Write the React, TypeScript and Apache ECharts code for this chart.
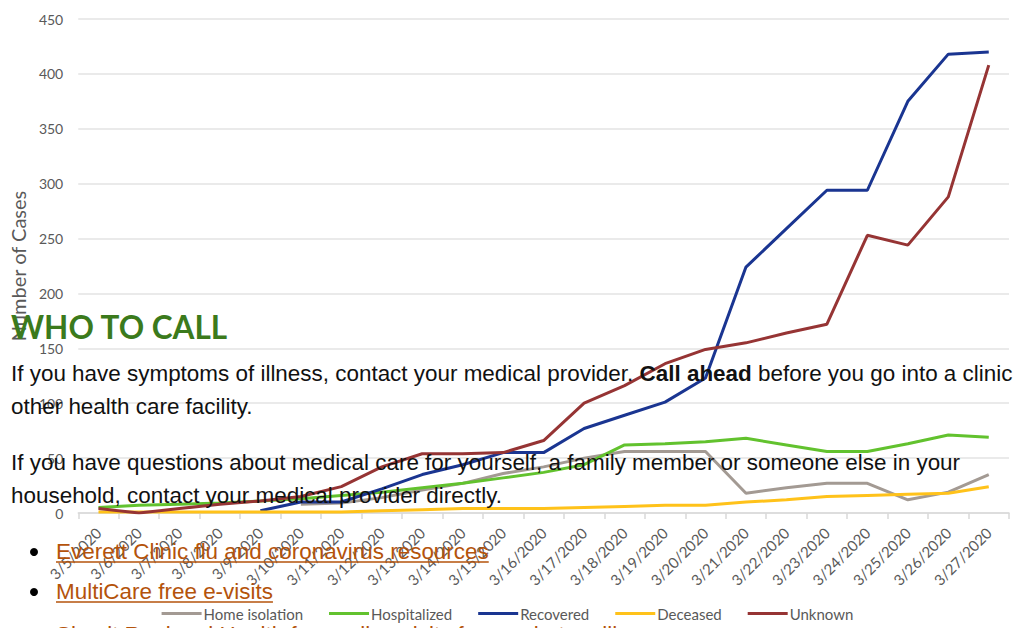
import React, { useEffect, useRef } from "react";
import * as echarts from "echarts";

const categories = [
  "3/5/2020", "3/6/2020", "3/7/2020", "3/8/2020", "3/9/2020", "3/10/2020",
  "3/11/2020", "3/12/2020", "3/13/2020", "3/14/2020", "3/15/2020", "3/16/2020",
  "3/17/2020", "3/18/2020", "3/19/2020", "3/20/2020", "3/21/2020", "3/22/2020",
  "3/23/2020", "3/24/2020", "3/25/2020", "3/26/2020", "3/27/2020",
];

const homeIsolation = [null, null, null, null, null, 8, 9, 14, 21, 27, 36, 42, 50, 56, 56, 56, 18, 23, 27, 27, 12, 19, 35];
const hospitalized = [5, 7, 8, 9, 11, 13, 16, 19, 23, 27, 32, 37, 44, 62, 63, 65, 68, 62, 56, 56, 63, 71, 69];
const recovered = [null, null, null, null, 2, 10, 10, 22, 35, 44, 55, 55, 77, 89, 101, 123, 224, 259, 294, 294, 375, 418, 420];
const deceased = [1, 1, 1, 1, 1, 1, 1, 2, 3, 4, 4, 4, 5, 6, 7, 7, 10, 12, 15, 16, 17, 18, 24];
const unknown = [4, 0, 4, 8, 11, 15, 24, 42, 54, 54, 55, 66, 100, 116, 136, 149, 155, 164, 172, 253, 244, 288, 408];

const seriesNames = ["Home isolation", "Hospitalized", "Recovered", "Deceased", "Unknown"];
const seriesColors = ["#a39a93", "#62c22e", "#1a3591", "#ffc21a", "#963434"];

const yTicks = { min: 0, max: 450, interval: 50 };

const heading = "WHO TO CALL";
const para1 = [
  "If you have symptoms of illness, contact your medical provider. {b|Call ahead} before you go into a clinic",
  "other health care facility.",
];
const para2 = [
  "If you have questions about medical care for yourself, a family member or someone else in your",
  "household, contact your medical provider directly.",
];
const links = [
  "Everett Clinic flu and coronavirus resources",
  "MultiCare free e-visits",
  "Skagit Regional Health free online visits for respiratory illness",
];

const BODY_FONT = "Liberation Sans, Arial, sans-serif";
const BODY_SIZE = "22.45px ";
const LINK_COLOR = "#b4530b";
const CHART_FONT = "Lato, sans-serif";

function measure(text: string, font: string): number {
  const c = document.createElement("canvas").getContext("2d");
  if (!c) return text.length * 11;
  c.font = font;
  return c.measureText(text).width;
}

export default function App() {
  const ref = useRef<HTMLDivElement>(null);

  useEffect(() => {
    if (!ref.current) return;
    const chart = echarts.init(ref.current, undefined, { renderer: "svg" });
    const data = [homeIsolation, hospitalized, recovered, deceased, unknown];

    const textEls: any[] = [];
    textEls.push({
      type: "text",
      x: 11,
      y: 327,
      z: 100,
      style: {
        text: heading,
        font: "700 31.5px Lato, sans-serif",
        fill: "#3b7a1c",
        verticalAlign: "middle",
      },
    });
    const paraLines = [
      { t: para1[0], y: 373 },
      { t: para1[1], y: 406 },
      { t: para2[0], y: 462 },
      { t: para2[1], y: 495 },
    ];
    paraLines.forEach((l) => {
      textEls.push({
        type: "text",
        x: 11,
        y: l.y,
        z: 100,
        style: {
          text: l.t,
          font: BODY_SIZE + BODY_FONT,
          fill: "#111111",
          verticalAlign: "middle",
          rich: {
            b: { font: "bold " + BODY_SIZE + BODY_FONT, fill: "#111111" },
          },
        },
      });
    });
    const linkYs = [551, 591, 634];
    links.forEach((t, i) => {
      const y = linkYs[i];
      textEls.push({
        type: "circle",
        z: 100,
        shape: { cx: 34, cy: y + 1, r: 4 },
        style: { fill: "#000" },
      });
      textEls.push({
        type: "text",
        x: 56,
        y,
        z: 100,
        style: {
          text: t,
          font: BODY_SIZE + BODY_FONT,
          fill: LINK_COLOR,
          verticalAlign: "middle",
        },
      });
      const w = measure(t, BODY_SIZE + BODY_FONT);
      textEls.push({
        type: "line",
        z: 100,
        shape: { x1: 56, y1: y + 11, x2: 56 + w, y2: y + 11 },
        style: { stroke: LINK_COLOR, lineWidth: 1.5 },
      });
    });

    chart.setOption({
      animation: false,
      backgroundColor: "#ffffff",
      grid: { left: 78, right: 6, top: 19, bottom: 115, containLabel: false },
      legend: {
        bottom: 2,
        left: "center",
        icon: "rect",
        itemWidth: 40,
        itemHeight: 3,
        itemGap: 26,
        textStyle: { fontSize: 15, color: "#595959", fontFamily: CHART_FONT, padding: [0, 0, 0, -3] },
        data: seriesNames,
      },
      xAxis: {
        type: "category",
        data: categories,
        boundaryGap: true,
        axisLine: { lineStyle: { color: "#d9d9d9", width: 1.5 } },
        axisTick: { show: true, length: 6, lineStyle: { color: "#d9d9d9", width: 1.5 } },
        axisLabel: {
          rotate: 45,
          interval: 0,
          fontSize: 15,
          color: "#595959",
          fontFamily: CHART_FONT,
          margin: 17,
        },
      },
      yAxis: {
        type: "value",
        min: yTicks.min,
        max: yTicks.max,
        interval: yTicks.interval,
        name: "Number of Cases",
        nameLocation: "middle",
        nameRotate: 90,
        nameGap: 46,
        nameTextStyle: { fontSize: 20, color: "#595959", fontFamily: CHART_FONT },
        axisLine: { show: false },
        axisTick: { show: false },
        axisLabel: { fontSize: 14, color: "#595959", fontFamily: CHART_FONT, margin: 15 },
        splitLine: { lineStyle: { color: "#e3e3e3", width: 1.5 } },
      },
      series: seriesNames.map((name, i) => ({
        name,
        type: "line",
        data: data[i],
        symbol: "none",
        lineStyle: { width: 3, color: seriesColors[i] },
        itemStyle: { color: seriesColors[i] },
        z: 2,
      })),
      graphic: textEls,
    });

    return () => chart.dispose();
  }, []);

  return (
    <div
      ref={ref}
      style={{ position: "fixed", left: 0, top: 0, width: 1015, height: 628 }}
    />
  );
}
